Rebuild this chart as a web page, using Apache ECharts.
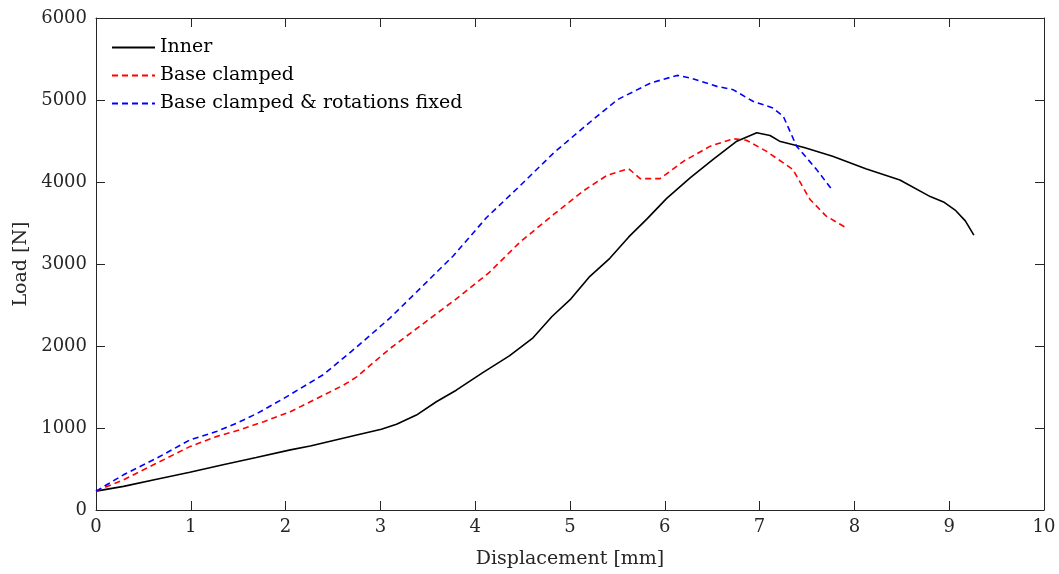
<!DOCTYPE html>
<html>
<head>
<meta charset="utf-8">
<script src="https://cdn.jsdelivr.net/npm/echarts@6/dist/echarts.min.js"></script>
<style>
html,body{margin:0;padding:0;background:#fff;overflow:hidden;}
#chart{width:1059px;height:574px;}
</style>
</head>
<body>
<div id="chart"></div>
<script>
// ---- Data ----
const seriesNames = ['Inner', 'Base clamped', 'Base clamped & rotations fixed'];

const innerX = [0,0.29,0.64,0.99,1.34,1.69,2.05,2.26,2.75,3.01,3.17,3.38,3.59,3.8,4.08,4.36,4.61,4.81,5.01,5.21,5.42,5.62,5.81,6.02,6.27,6.51,6.76,6.97,7.11,7.21,7.47,7.77,8.12,8.48,8.8,8.94,9.07,9.17,9.26];
const innerY = [230,288,376,461,551,640,733,781,915,985,1045,1158,1320,1461,1676,1879,2100,2360,2575,2850,3069,3330,3547,3800,4053,4275,4498,4600,4567,4498,4420,4315,4162,4025,3822,3757,3650,3526,3352];

const baseX = [0,0.29,0.64,0.99,1.27,1.51,1.77,2.05,2.4,2.61,2.75,3.1,3.45,3.8,4.15,4.47,4.83,5.14,5.39,5.62,5.74,5.95,6.2,6.48,6.72,6.86,7.07,7.35,7.53,7.7,7.9];
const baseY = [230,368,571,773,895,975,1077,1199,1400,1522,1624,1968,2271,2575,2899,3264,3607,3891,4081,4162,4041,4041,4255,4437,4527,4510,4376,4154,3790,3587,3450];

const rotX = [0,0.29,0.64,0.99,1.27,1.48,1.7,1.98,2.4,2.75,3.1,3.45,3.77,4.12,4.47,4.83,5.18,5.5,5.85,6.13,6.27,6.55,6.72,6.93,7.14,7.25,7.39,7.6,7.76];
const rotY = [230,429,632,854,956,1057,1178,1360,1652,1988,2340,2737,3101,3567,3951,4357,4701,5004,5207,5300,5268,5166,5126,4984,4903,4802,4437,4154,3911];

const xTicks = {min: 0, max: 10, interval: 1};
const yTicks = {min: 0, max: 6000, interval: 1000};

function pairs(xs, ys) { return xs.map((x, i) => [x, ys[i]]); }

const FONT = 'DejaVu Serif';
const AX = '#262626';
const TICKFS = 18;
const TEXTFS = 19;
const COLORS = ['#000000', '#ff0000', '#0000ff'];

const chart = echarts.init(document.getElementById('chart'), null, {renderer: 'canvas'});

const tickInside = {show: true, inside: true, length: 9, lineStyle: {color: AX, width: 1}};
const axLine = {show: true, onZero: false, lineStyle: {color: AX, width: 1}};

chart.setOption({
  backgroundColor: '#fff',
  animation: false,
  textStyle: {fontFamily: FONT},
  grid: {left: 96, right: 15, top: 18, bottom: 62, containLabel: false},
  legend: {
    orient: 'vertical',
    left: 111,
    top: 38,
    padding: 0,
    itemWidth: 43,
    itemHeight: 16,
    itemGap: 9,
    itemStyle: {opacity: 0},
    textStyle: {fontFamily: FONT, fontSize: TEXTFS, color: '#000'},
    data: seriesNames
  },
  xAxis: [
    {
      type: 'value', position: 'bottom',
      min: xTicks.min, max: xTicks.max, interval: xTicks.interval,
      name: 'Displacement [mm]', nameLocation: 'middle', nameGap: 40,
      nameTextStyle: {fontFamily: FONT, fontSize: TEXTFS, color: AX},
      axisLine: axLine, axisTick: tickInside,
      axisLabel: {fontFamily: FONT, fontSize: TICKFS, color: AX, margin: 8},
      splitLine: {show: false}
    },
    {
      type: 'value', position: 'top',
      min: xTicks.min, max: xTicks.max, interval: xTicks.interval,
      axisLine: axLine, axisTick: tickInside,
      axisLabel: {show: false}, splitLine: {show: false}
    }
  ],
  yAxis: [
    {
      type: 'value', position: 'left',
      min: yTicks.min, max: yTicks.max, interval: yTicks.interval,
      name: 'Load [N]', nameLocation: 'middle', nameGap: 64,
      nameTextStyle: {fontFamily: FONT, fontSize: TEXTFS, color: AX},
      axisLine: axLine, axisTick: tickInside,
      axisLabel: {fontFamily: FONT, fontSize: TICKFS, color: AX, margin: 9, formatter: v => String(v)},
      splitLine: {show: false}
    },
    {
      type: 'value', position: 'right',
      min: yTicks.min, max: yTicks.max, interval: yTicks.interval,
      axisLine: axLine, axisTick: tickInside,
      axisLabel: {show: false}, splitLine: {show: false}
    }
  ],
  series: [
    {
      name: seriesNames[0], type: 'line', data: pairs(innerX, innerY),
      symbol: 'none', smooth: false,
      lineStyle: {color: COLORS[0], width: 1.6, type: 'solid'},
      itemStyle: {color: COLORS[0]}
    },
    {
      name: seriesNames[1], type: 'line', data: pairs(baseX, baseY),
      symbol: 'none', smooth: false,
      lineStyle: {color: COLORS[1], width: 1.6, type: [6,4]},
      itemStyle: {color: COLORS[1]}
    },
    {
      name: seriesNames[2], type: 'line', data: pairs(rotX, rotY),
      symbol: 'none', smooth: false,
      lineStyle: {color: COLORS[2], width: 1.6, type: [6,4]},
      itemStyle: {color: COLORS[2]}
    }
  ]
});
</script>
</body>
</html>
